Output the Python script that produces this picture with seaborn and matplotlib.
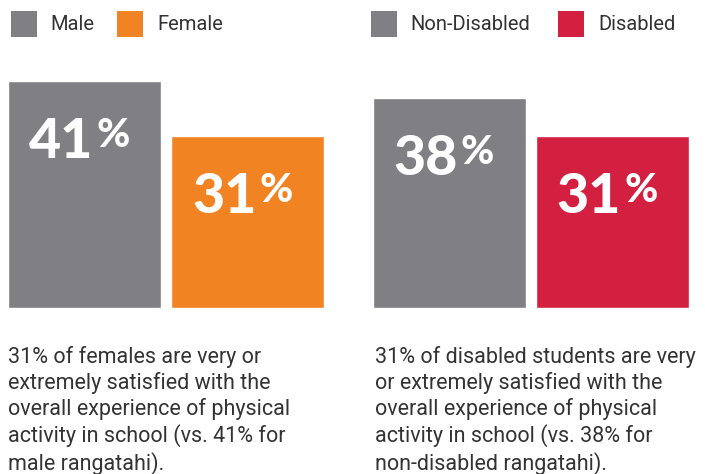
import matplotlib
matplotlib.use("Agg")
import matplotlib.pyplot as plt
from matplotlib.patches import Rectangle
import seaborn as sns
import pandas as pd

# Data
gender_groups = ["Male", "Female"]
gender_values = [41, 31]
gender_colors = ["#808084", "#F28322"]
gender_note = ("31% of females are very or\nextremely satisfied with the\n"
               "overall experience of physical\nactivity in school (vs. 41% for\n"
               "male rangatahi).")

disability_groups = ["Non-Disabled", "Disabled"]
disability_values = [38, 31]
disability_colors = ["#808084", "#D42040"]
disability_note = ("31% of disabled students are very\nor extremely satisfied with the\n"
                   "overall experience of physical\nactivity in school (vs. 38% for\n"
                   "non-disabled rangatahi).")

sns.set_theme(style="white")
plt.rcParams["font.family"] = ["Roboto", "DejaVu Sans"]

W, H = 705, 474
DPI = 100
fig = plt.figure(figsize=(W / DPI, H / DPI), dpi=DPI)
fig.patch.set_facecolor("white")

TEXT = "#333333"
BOTTOM_PX = 307.5          # baseline of the bars, pixels from top
PX_PER_UNIT = 5.524        # vertical scale
YMAX = 50
UNIT_W = 163.0             # pixels between bar centres
BIG_FONT = ["Lato", "Roboto", "DejaVu Sans"]


def px_axes(left_px):
    height_px = YMAX * PX_PER_UNIT
    return fig.add_axes([left_px / W, (H - BOTTOM_PX) / H,
                         2 * UNIT_W / W, height_px / H])


def panel(left_px, groups, values, colors, note, legend_x, note_x):
    df = pd.DataFrame({"group": groups, "value": values})
    ax = px_axes(left_px)
    sns.barplot(data=df, x="group", y="value", hue="group",
                palette=dict(zip(groups, colors)), order=groups,
                width=153 / UNIT_W, saturation=1, legend=False, ax=ax)
    ax.set_xlim(-0.5, 1.5)
    ax.set_ylim(0, YMAX)
    ax.axis("off")
    for i, v in enumerate(values):
        ax.annotate(f"{v}", xy=(i, v), xytext=(9, -77),
                    textcoords="offset pixels", ha="right", va="baseline",
                    fontsize=40, fontweight="black", color="white",
                    family=BIG_FONT)
        ax.annotate("%", xy=(i, v), xytext=(12, -66),
                    textcoords="offset pixels", ha="left", va="baseline",
                    fontsize=29, fontweight="black", color="white",
                    family=BIG_FONT)

    # legend swatches and labels
    for (sq_x, txt_x), g, c in zip(legend_x, groups, colors):
        fig.patches.append(Rectangle((sq_x / W, (H - 37) / H), 26 / W, 26 / H,
                                     transform=fig.transFigure,
                                     facecolor=c, edgecolor="none"))
        fig.text(txt_x / W, (H - 24) / H, g, ha="left", va="center",
                 fontsize=14.5, color=TEXT)

    fig.text(note_x / W, (H - 346) / H, note, ha="left", va="top",
             fontsize=15.5, color=TEXT, linespacing=1.24)


panel(3, gender_groups, gender_values, gender_colors, gender_note,
      [(11, 50), (117, 157)], 8)
panel(367.5, disability_groups, disability_values, disability_colors,
      disability_note, [(371, 410), (558, 598)], 375)

fig.savefig("out.png", dpi=DPI, facecolor="white")
